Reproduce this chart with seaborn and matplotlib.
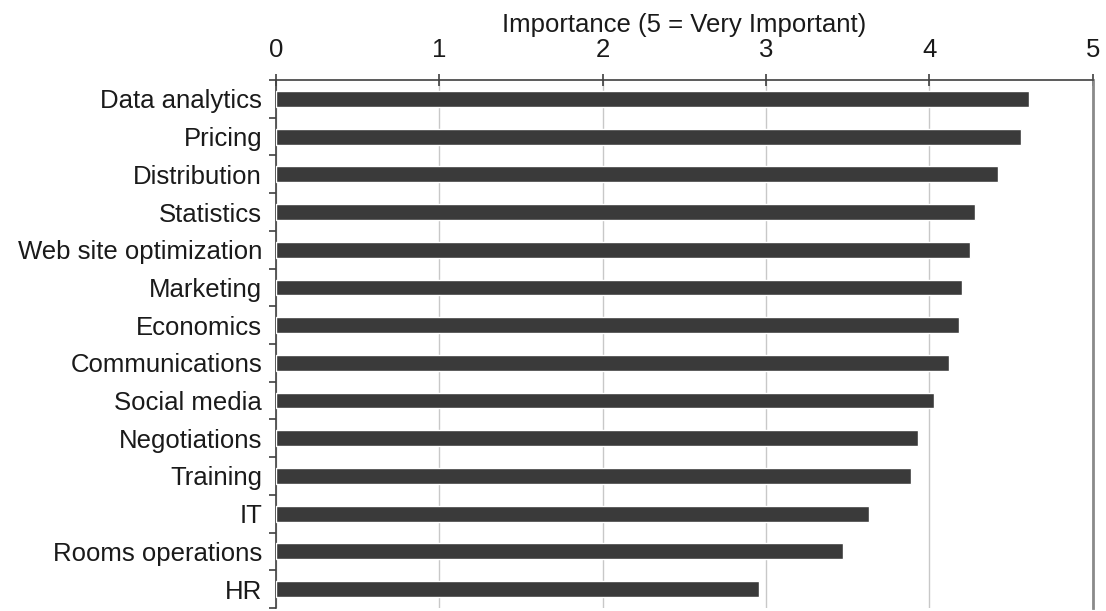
from matplotlib import pyplot as plt
from matplotlib.ticker import FixedLocator
import pandas as pd
import seaborn as sns
import numpy as np

# values
categories = ['Data analytics', 'Pricing', 'Distribution', 'Statistics',
              'Web site optimization', 'Marketing', 'Economics',
              'Communications', 'Social media', 'Negotiations', 'Training',
              'IT', 'Rooms operations', 'HR']
importance = [4.61, 4.56, 4.42, 4.28, 4.25, 4.20, 4.18,
              4.12, 4.03, 3.93, 3.89, 3.63, 3.47, 2.96]
x_ticks = [0, 1, 2, 3, 4, 5]
x_label = 'Importance (5 = Very Important)'

df = pd.DataFrame({'skill': categories, 'importance': importance})

sns.set_style("white")
plt.rcParams['font.family'] = ['Liberation Sans', 'DejaVu Sans']
plt.rcParams['text.color'] = '#1a1a1a'
plt.rcParams['xtick.color'] = '#1a1a1a'
plt.rcParams['ytick.color'] = '#1a1a1a'
plt.rcParams['axes.labelcolor'] = '#1a1a1a'

fig, ax = plt.subplots(figsize=(11.06, 6.11), dpi=100)
fig.subplots_adjust(left=0.2495, right=0.988, top=0.869, bottom=0.005)

sns.barplot(ax=ax, data=df, x='importance', y='skill', orient='h',
            color='#3a3a3a', saturation=1, width=0.42, zorder=3)

ax.set_xlim(0, 5)
ax.set_ylim(len(categories) - 0.5, -0.5)
ax.xaxis.tick_top()
ax.xaxis.set_label_position('top')
ax.set_xticks(x_ticks)
ax.set_xticklabels([str(t) for t in x_ticks], fontsize=18.5)
ax.set_xlabel(x_label, fontsize=18.5, labelpad=4)
ax.set_ylabel('')
ax.tick_params(axis='x', direction='inout', length=8, width=1.2,
               color='#404040', pad=9)
ax.tick_params(axis='y', which='major', length=0, labelsize=18.5, pad=10)

# small ticks between categories on the left axis
ax.yaxis.set_minor_locator(FixedLocator(np.arange(-0.5, len(categories), 1)))
ax.tick_params(axis='y', which='minor', left=True, direction='out',
               length=5, width=1.2, color='#404040')

ax.grid(axis='x', color='#c8c8c8', linewidth=1, zorder=0)
ax.spines['bottom'].set_visible(False)
ax.spines['top'].set_color('#404040')
ax.spines['top'].set_linewidth(1.2)
ax.spines['left'].set_color('#404040')
ax.spines['left'].set_linewidth(1.2)
ax.spines['right'].set_color('#8a8a8a')
ax.spines['right'].set_linewidth(2)

plt.savefig('out.png', dpi=100)
